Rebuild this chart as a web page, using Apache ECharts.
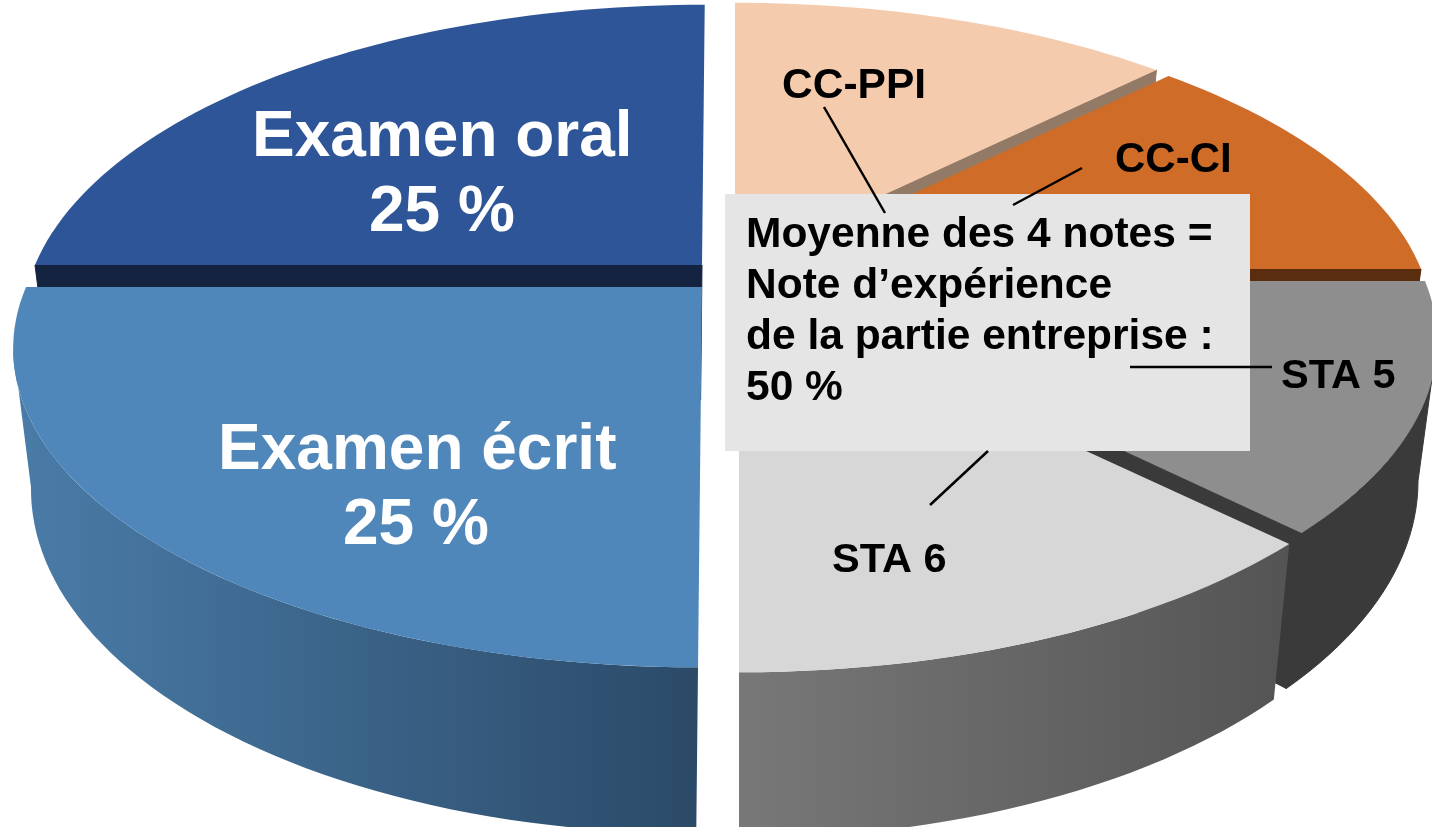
<!DOCTYPE html>
<html>
<head>
<meta charset="utf-8">
<title>Note</title>
<script src="https://cdn.jsdelivr.net/npm/echarts@6/dist/echarts.min.js"></script>
<style>
  html, body { margin: 0; padding: 0; background: #fff; }
  #chart { width: 1432px; height: 827px; }
</style>
</head>
<body>
<div id="chart"></div>
<script>
// clockwise from 12 o'clock
var categories = ['CC-PPI', 'CC-CI', 'STA 5', 'STA 6', 'Examen écrit', 'Examen oral'];
var shares = [12.5, 12.5, 12.5, 12.5, 25, 25];
var boxLines = ['Moyenne des 4 notes =', 'Note d’expérience', 'de la partie entreprise :', '50 %'];
var shareText = '25 %';

// back to front
var drawOrder = [0, 1, 5, 2, 3, 4];

// exploded slices: apex of each one on screen
var apexX = [735, 749, 757, 739, 702, 702];
var apexY = [263, 269, 281, 292, 287, 265];
var radiusX = [675, 672, 668, 675, 676, 667];
var slant = [0, 0, 0, 0, 0.0105, 0.0105];

var topColors = ['#f5cbad', '#cf6c28', '#8e8e8e', '#d7d7d7', '#4f87bb', '#2e5597'];
var wallColors = ['#927a66', '#5a2d0e', '#3a3a3a', '#3a3a3a', '#14233f', '#14233f'];

var RY = 309;        // disc depth
var K = 0.1875;      // perspective
var THICK = 135;     // extrusion
var SHRINK = 0.972;  // extruded rim pulls in towards centre
var FONT = '"Liberation Sans", Arial, sans-serif';

var total = shares.reduce(function (a, b) { return a + b; }, 0);
var startAngles = [];
var acc = 0;
for (var s = 0; s < shares.length; s++) {
  startAngles.push(acc / total * 360);
  acc += shares[s];
}

function project(i, deg, r, low) {
  var a = deg * Math.PI / 180;
  var X = Math.sin(a) * r;
  var Y = -Math.cos(a) * r;
  var d = 1 - K * Y;
  var px = radiusX[i] * X / d;
  var py = RY * Y / d;
  if (low) {
    px = px * SHRINK;
    py = py + THICK / d;
  }
  return [apexX[i] + px - slant[i] * py, apexY[i] + py];
}

function arc(i, a0, a1, low) {
  var pts = [];
  var n = Math.max(2, Math.ceil(Math.abs(a1 - a0) / 1.5));
  for (var j = 0; j <= n; j++) {
    pts.push(project(i, a0 + (a1 - a0) * j / n, 1, low));
  }
  return pts;
}

function sideGradient(i) {
  if (i == 4) {
    return new echarts.graphic.LinearGradient(0, 0, 1, 0, [
      { offset: 0, color: '#4a7ca8' },
      { offset: 1, color: '#2b4a68' }
    ]);
  }
  if (i == 3) {
    return new echarts.graphic.LinearGradient(0, 0, 1, 0, [
      { offset: 0, color: '#787878' },
      { offset: 1, color: '#545454' }
    ]);
  }
  return wallColors[i];
}

function poly(points, fill, stroke) {
  return {
    type: 'polygon',
    shape: { points: points },
    style: { fill: fill, stroke: stroke || null, lineWidth: stroke ? 1 : 0 },
    silent: true
  };
}

function radialWall(i, deg) {
  return poly([
    project(i, deg, 0, false),
    project(i, deg, 1, false),
    project(i, deg, 1, true),
    project(i, deg, 0, true)
  ], wallColors[i], wallColors[i]);
}

function renderSlice(params, api) {
  var i = api.value(0);
  var a0 = startAngles[i];
  var a1 = a0 + api.value(1) / total * 360;
  var kids = [];

  // radial wall on the clockwise end, only if it faces us
  if (i < 3) {
    kids.push(radialWall(i, a1));
  }
  if (i == 5) {
    kids.push(radialWall(i, a0));
  }

  // rim, between the two silhouette tangents
  var tangent = Math.acos(-K) * 180 / Math.PI;
  var w0 = Math.max(a0, tangent);
  var w1 = Math.min(a1, 360 - tangent);
  if (w1 > w0) {
    var fill = sideGradient(i);
    kids.push(poly(arc(i, w0, w1, false).concat(arc(i, w1, w0, true)), fill, i == 2 ? wallColors[i] : null));
  }

  kids.push(poly([project(i, a0, 0, false)].concat(arc(i, a0, a1, false)), topColors[i]));
  return { type: 'group', children: kids };
}

// y is the baseline
function txt(str, x, y, size, color) {
  return {
    type: 'text', x: x, y: y - size * 0.785, z: 20,
    style: { text: str, fontFamily: FONT, fontWeight: 'bold', fontSize: size, fill: color }
  };
}

function leader(x1, y1, x2, y2) {
  return {
    type: 'line', z: 19,
    shape: { x1: x1, y1: y1, x2: x2, y2: y2 },
    style: { stroke: '#000', lineWidth: 2.5 }
  };
}

var chart = echarts.init(document.getElementById('chart'));
chart.setOption({
  animation: false,
  backgroundColor: '#fff',
  tooltip: { show: false },
  series: [{
    type: 'custom',
    coordinateSystem: 'none',
    silent: true,
    renderItem: renderSlice,
    data: drawOrder.map(function (i) { return [i, shares[i]]; })
  }],
  graphic: [
    { type: 'rect', z: 18, shape: { x: 725, y: 194, width: 525, height: 257 }, style: { fill: '#e5e5e5' } },
    leader(824, 107, 885, 213),
    leader(1082, 168, 1013, 205),
    leader(1130, 367, 1272, 367),
    leader(988, 451, 930, 505),
    txt(categories[5], 252, 157, 64, '#fff'),
    txt(shareText, 369, 232, 64, '#fff'),
    txt(categories[4], 218, 470, 64, '#fff'),
    txt(shareText, 343, 545, 64, '#fff'),
    txt(categories[0], 782, 98, 42.5, '#000'),
    txt(categories[1], 1115, 172, 42, '#000'),
    txt(categories[2], 1281, 388, 41.5, '#000'),
    txt(categories[3], 832, 572, 41.5, '#000'),
    txt(boxLines[0], 746, 247, 42.5, '#000'),
    txt(boxLines[1], 746, 298, 42.5, '#000'),
    txt(boxLines[2], 746, 349, 42.5, '#000'),
    txt(boxLines[3], 746, 400, 42.5, '#000')
  ]
});
</script>
</body>
</html>
